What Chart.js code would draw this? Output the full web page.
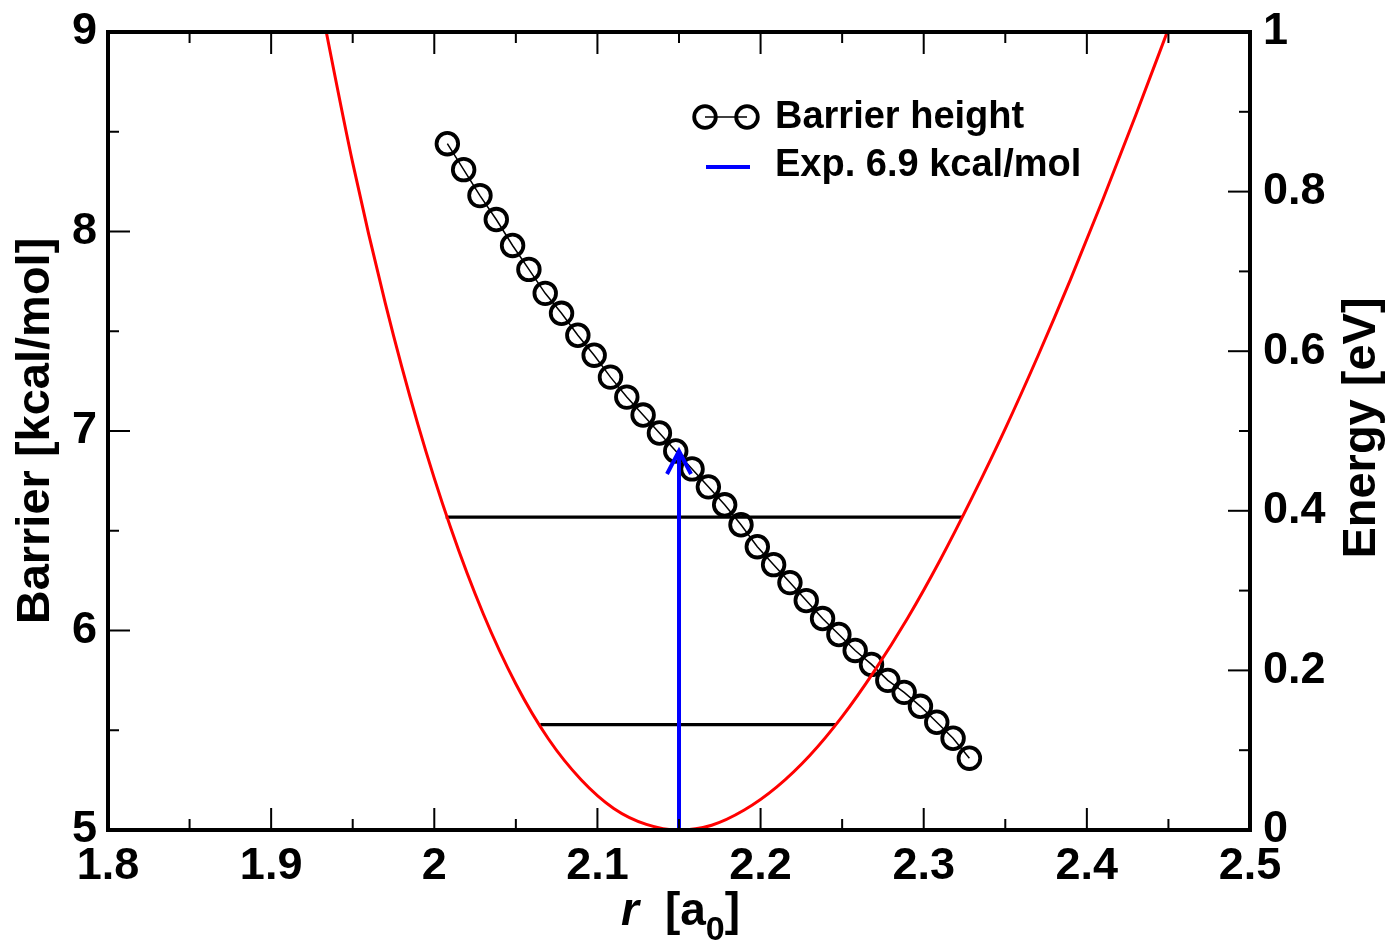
<!DOCTYPE html>
<html>
<head>
<meta charset="utf-8">
<script src="https://cdn.jsdelivr.net/npm/chart.js@4/dist/chart.umd.min.js"></script>
<style>
  html, body { margin: 0; padding: 0; background: #fff; }
</style>
</head>
<body>
<canvas id="myChart" width="1388" height="940"></canvas>
<script>
// barrier height vs r (left axis, kcal/mol)
const rValues = [2.008, 2.018, 2.028, 2.038, 2.048, 2.058, 2.068, 2.078, 2.088, 2.098, 2.108,
                 2.118, 2.128, 2.138, 2.148, 2.158, 2.168, 2.178, 2.188, 2.198, 2.208, 2.218,
                 2.228, 2.238, 2.248, 2.258, 2.268, 2.278, 2.288, 2.298, 2.308, 2.318, 2.328];
const barrier = [8.44, 8.31, 8.18, 8.06, 7.93, 7.81, 7.69, 7.59, 7.48, 7.38, 7.27,
                 7.17, 7.08, 6.99, 6.90, 6.81, 6.72, 6.63, 6.53, 6.42, 6.33, 6.24,
                 6.15, 6.06, 5.98, 5.90, 5.83, 5.75, 5.69, 5.62, 5.54, 5.46, 5.36];

// potential curve (right axis, eV)
const curveR = [1.93, 1.95, 1.97, 1.99, 2.01, 2.03, 2.05, 2.07, 2.09, 2.11, 2.13,
                2.15, 2.17, 2.19, 2.21, 2.23, 2.25, 2.27, 2.29, 2.31, 2.33, 2.35,
                2.37, 2.39, 2.41, 2.43, 2.45];
const curveE = [1.039, 0.836, 0.660, 0.508, 0.379, 0.271, 0.183, 0.114, 0.063, 0.027, 0.007,
                0.000, 0.006, 0.025, 0.054, 0.093, 0.142, 0.200, 0.265, 0.338, 0.418, 0.503,
                0.594, 0.690, 0.791, 0.896, 1.004];

// vibrational levels
const levelE = [0.132, 0.392];
const levelLeft = [2.065, 2.007];
const levelRight = [2.246, 2.324];

// experimental barrier
const expR = 2.15;
const expBarrier = 6.9;
const expBase = 5;

const xTicks = { min: 1.8, max: 2.5, step: 0.1 };
const yTicks = { min: 5, max: 9, step: 1 };
const y2Ticks = { min: 0, max: 1, step: 0.2 };

const FONT = 'Liberation Sans, Arial, Helvetica, sans-serif';

function fmt(v) {
    return String(+v.toFixed(2));
}

const datasets = [];

datasets.push({
    label: 'Exp. 6.9 kcal/mol',
    data: [{x: expR, y: expBase}, {x: expR, y: expBarrier}],
    yAxisID: 'y',
    borderColor: '#0000ff',
    borderWidth: 4,
    pointRadius: 0,
    fill: false
});

datasets.push({
    label: 'curve',
    data: curveR.map((r, i) => ({x: r, y: curveE[i]})),
    yAxisID: 'y2',
    borderColor: '#ff0000',
    borderWidth: 3,
    pointRadius: 0,
    cubicInterpolationMode: 'monotone',
    fill: false
});

levelE.forEach((e, i) => {
    datasets.push({
        label: 'level' + i,
        data: [{x: levelLeft[i], y: e}, {x: levelRight[i], y: e}],
        yAxisID: 'y2',
        borderColor: '#000',
        borderWidth: 3.2,
        pointRadius: 0,
        fill: false
    });
});

datasets.push({
    label: 'Barrier height',
    data: rValues.map((r, i) => ({x: r, y: barrier[i]})),
    yAxisID: 'y',
    borderColor: '#000',
    borderWidth: 1.5,
    pointRadius: 10.8,
    pointBorderWidth: 3.8,
    pointBackgroundColor: 'rgba(0,0,0,0)',
    pointBorderColor: '#000',
    fill: false
});

// frame, inward ticks, arrow head, legend, axis titles
const decor = {
    id: 'decor',
    afterDraw(chart) {
        const ctx = chart.ctx;
        const a = chart.chartArea;
        const sx = chart.scales.x, sy = chart.scales.y, sy2 = chart.scales.y2;
        ctx.save();

        // arrow head
        const px = sx.getPixelForValue(expR);
        const py = sy.getPixelForValue(expBarrier);
        ctx.strokeStyle = '#0000ff';
        ctx.lineWidth = 4;
        ctx.beginPath();
        ctx.moveTo(px - 12, py + 23);
        ctx.lineTo(px, py);
        ctx.lineTo(px + 12, py + 23);
        ctx.stroke();

        // ticks
        ctx.strokeStyle = '#000';
        ctx.lineWidth = 2;
        const MAJ = 22, MIN = 11;
        const xv = sx.ticks.map(t => t.value);
        xv.forEach((v, i) => {
            const p = sx.getPixelForValue(v);
            ctx.beginPath();
            ctx.moveTo(p, a.bottom); ctx.lineTo(p, a.bottom - MAJ);
            ctx.moveTo(p, a.top); ctx.lineTo(p, a.top + MAJ);
            ctx.stroke();
            if (i < xv.length - 1) {
                const m = sx.getPixelForValue((v + xv[i + 1]) / 2);
                ctx.beginPath();
                ctx.moveTo(m, a.bottom); ctx.lineTo(m, a.bottom - MIN);
                ctx.moveTo(m, a.top); ctx.lineTo(m, a.top + MIN);
                ctx.stroke();
            }
        });
        const yv = sy.ticks.map(t => t.value);
        yv.forEach((v, i) => {
            const p = sy.getPixelForValue(v);
            ctx.beginPath(); ctx.moveTo(a.left, p); ctx.lineTo(a.left + MAJ, p); ctx.stroke();
            if (i < yv.length - 1) {
                const m = sy.getPixelForValue((v + yv[i + 1]) / 2);
                ctx.beginPath(); ctx.moveTo(a.left, m); ctx.lineTo(a.left + MIN, m); ctx.stroke();
            }
        });
        const y2v = sy2.ticks.map(t => t.value);
        y2v.forEach((v, i) => {
            const p = sy2.getPixelForValue(v);
            ctx.beginPath(); ctx.moveTo(a.right, p); ctx.lineTo(a.right - MAJ, p); ctx.stroke();
            if (i < y2v.length - 1) {
                const m = sy2.getPixelForValue((v + y2v[i + 1]) / 2);
                ctx.beginPath(); ctx.moveTo(a.right, m); ctx.lineTo(a.right - MIN, m); ctx.stroke();
            }
        });

        // frame
        ctx.lineWidth = 4;
        ctx.strokeRect(a.left, a.top, a.right - a.left, a.bottom - a.top);

        // legend
        ctx.lineWidth = 1.5;
        ctx.beginPath(); ctx.moveTo(705, 117); ctx.lineTo(747, 117); ctx.stroke();
        ctx.lineWidth = 3.8;
        [705, 747].forEach(cx => {
            ctx.beginPath(); ctx.arc(cx, 117, 10.8, 0, Math.PI * 2); ctx.stroke();
        });
        ctx.strokeStyle = '#0000ff';
        ctx.lineWidth = 4;
        ctx.beginPath(); ctx.moveTo(706, 167); ctx.lineTo(750, 167); ctx.stroke();
        ctx.fillStyle = '#000';
        ctx.font = 'bold 38px ' + FONT;
        ctx.textBaseline = 'alphabetic';
        ctx.textAlign = 'left';
        ctx.fillText('Barrier height', 775, 128);
        ctx.fillText('Exp. 6.9 kcal/mol', 775, 176);

        // axis titles
        ctx.font = 'bold 47px ' + FONT;
        ctx.textAlign = 'center';
        ctx.textBaseline = 'middle';
        ctx.save();
        ctx.translate(36, (a.top + a.bottom) / 2);
        ctx.rotate(-Math.PI / 2);
        ctx.fillText('Barrier [kcal/mol]', 0, 0);
        ctx.restore();
        ctx.save();
        ctx.translate(1362, (a.top + a.bottom) / 2 - 3);
        ctx.rotate(-Math.PI / 2);
        ctx.fillText('Energy [eV]', 0, 0);
        ctx.restore();

        // x title: r [a0]
        ctx.textAlign = 'left';
        ctx.textBaseline = 'alphabetic';
        let x = 621;
        const base = 925;
        ctx.font = 'italic bold 46px ' + FONT;
        ctx.fillText('r', x, base);
        x += ctx.measureText('r').width + 26;
        ctx.font = 'bold 46px ' + FONT;
        ctx.fillText('[a', x, base);
        x += ctx.measureText('[a').width;
        ctx.font = 'bold 34px ' + FONT;
        ctx.fillText('0', x, base + 15);
        x += ctx.measureText('0').width;
        ctx.font = 'bold 46px ' + FONT;
        ctx.fillText(']', x, base);

        ctx.restore();
    }
};

function noPad(s) {
    s.paddingTop = 0;
    s.paddingBottom = 0;
    s.paddingLeft = 0;
    s.paddingRight = 0;
}

const ctx = document.getElementById('myChart').getContext('2d');
const myChart = new Chart(ctx, {
    type: 'line',
    data: { datasets: datasets },
    plugins: [decor],
    options: {
        responsive: false,
        animation: false,
        events: [],
        layout: { padding: { top: 32, left: 0, right: 0, bottom: 0 } },
        plugins: {
            legend: { display: false },
            tooltip: { enabled: false }
        },
        scales: {
            x: {
                type: 'linear',
                min: xTicks.min,
                max: xTicks.max,
                grid: { display: false, drawTicks: false },
                border: { display: false },
                afterFit: s => { s.height = 110; noPad(s); },
                ticks: {
                    stepSize: xTicks.step,
                    autoSkip: false,
                    maxRotation: 0,
                    padding: 10,
                    color: '#000',
                    font: { family: FONT, size: 45, weight: 'bold' },
                    callback: v => fmt(v)
                }
            },
            y: {
                type: 'linear',
                position: 'left',
                min: yTicks.min,
                max: yTicks.max,
                grid: { display: false, drawTicks: false },
                border: { display: false },
                afterFit: s => { s.width = 108; noPad(s); },
                ticks: {
                    stepSize: yTicks.step,
                    padding: 11,
                    color: '#000',
                    font: { family: FONT, size: 45, weight: 'bold' },
                    callback: v => fmt(v)
                }
            },
            y2: {
                type: 'linear',
                position: 'right',
                min: y2Ticks.min,
                max: y2Ticks.max,
                grid: { display: false, drawTicks: false },
                border: { display: false },
                afterFit: s => { s.width = 138; noPad(s); },
                ticks: {
                    stepSize: y2Ticks.step,
                    padding: 13,
                    color: '#000',
                    font: { family: FONT, size: 45, weight: 'bold' },
                    callback: v => fmt(v)
                }
            }
        }
    }
});
</script>
</body>
</html>
